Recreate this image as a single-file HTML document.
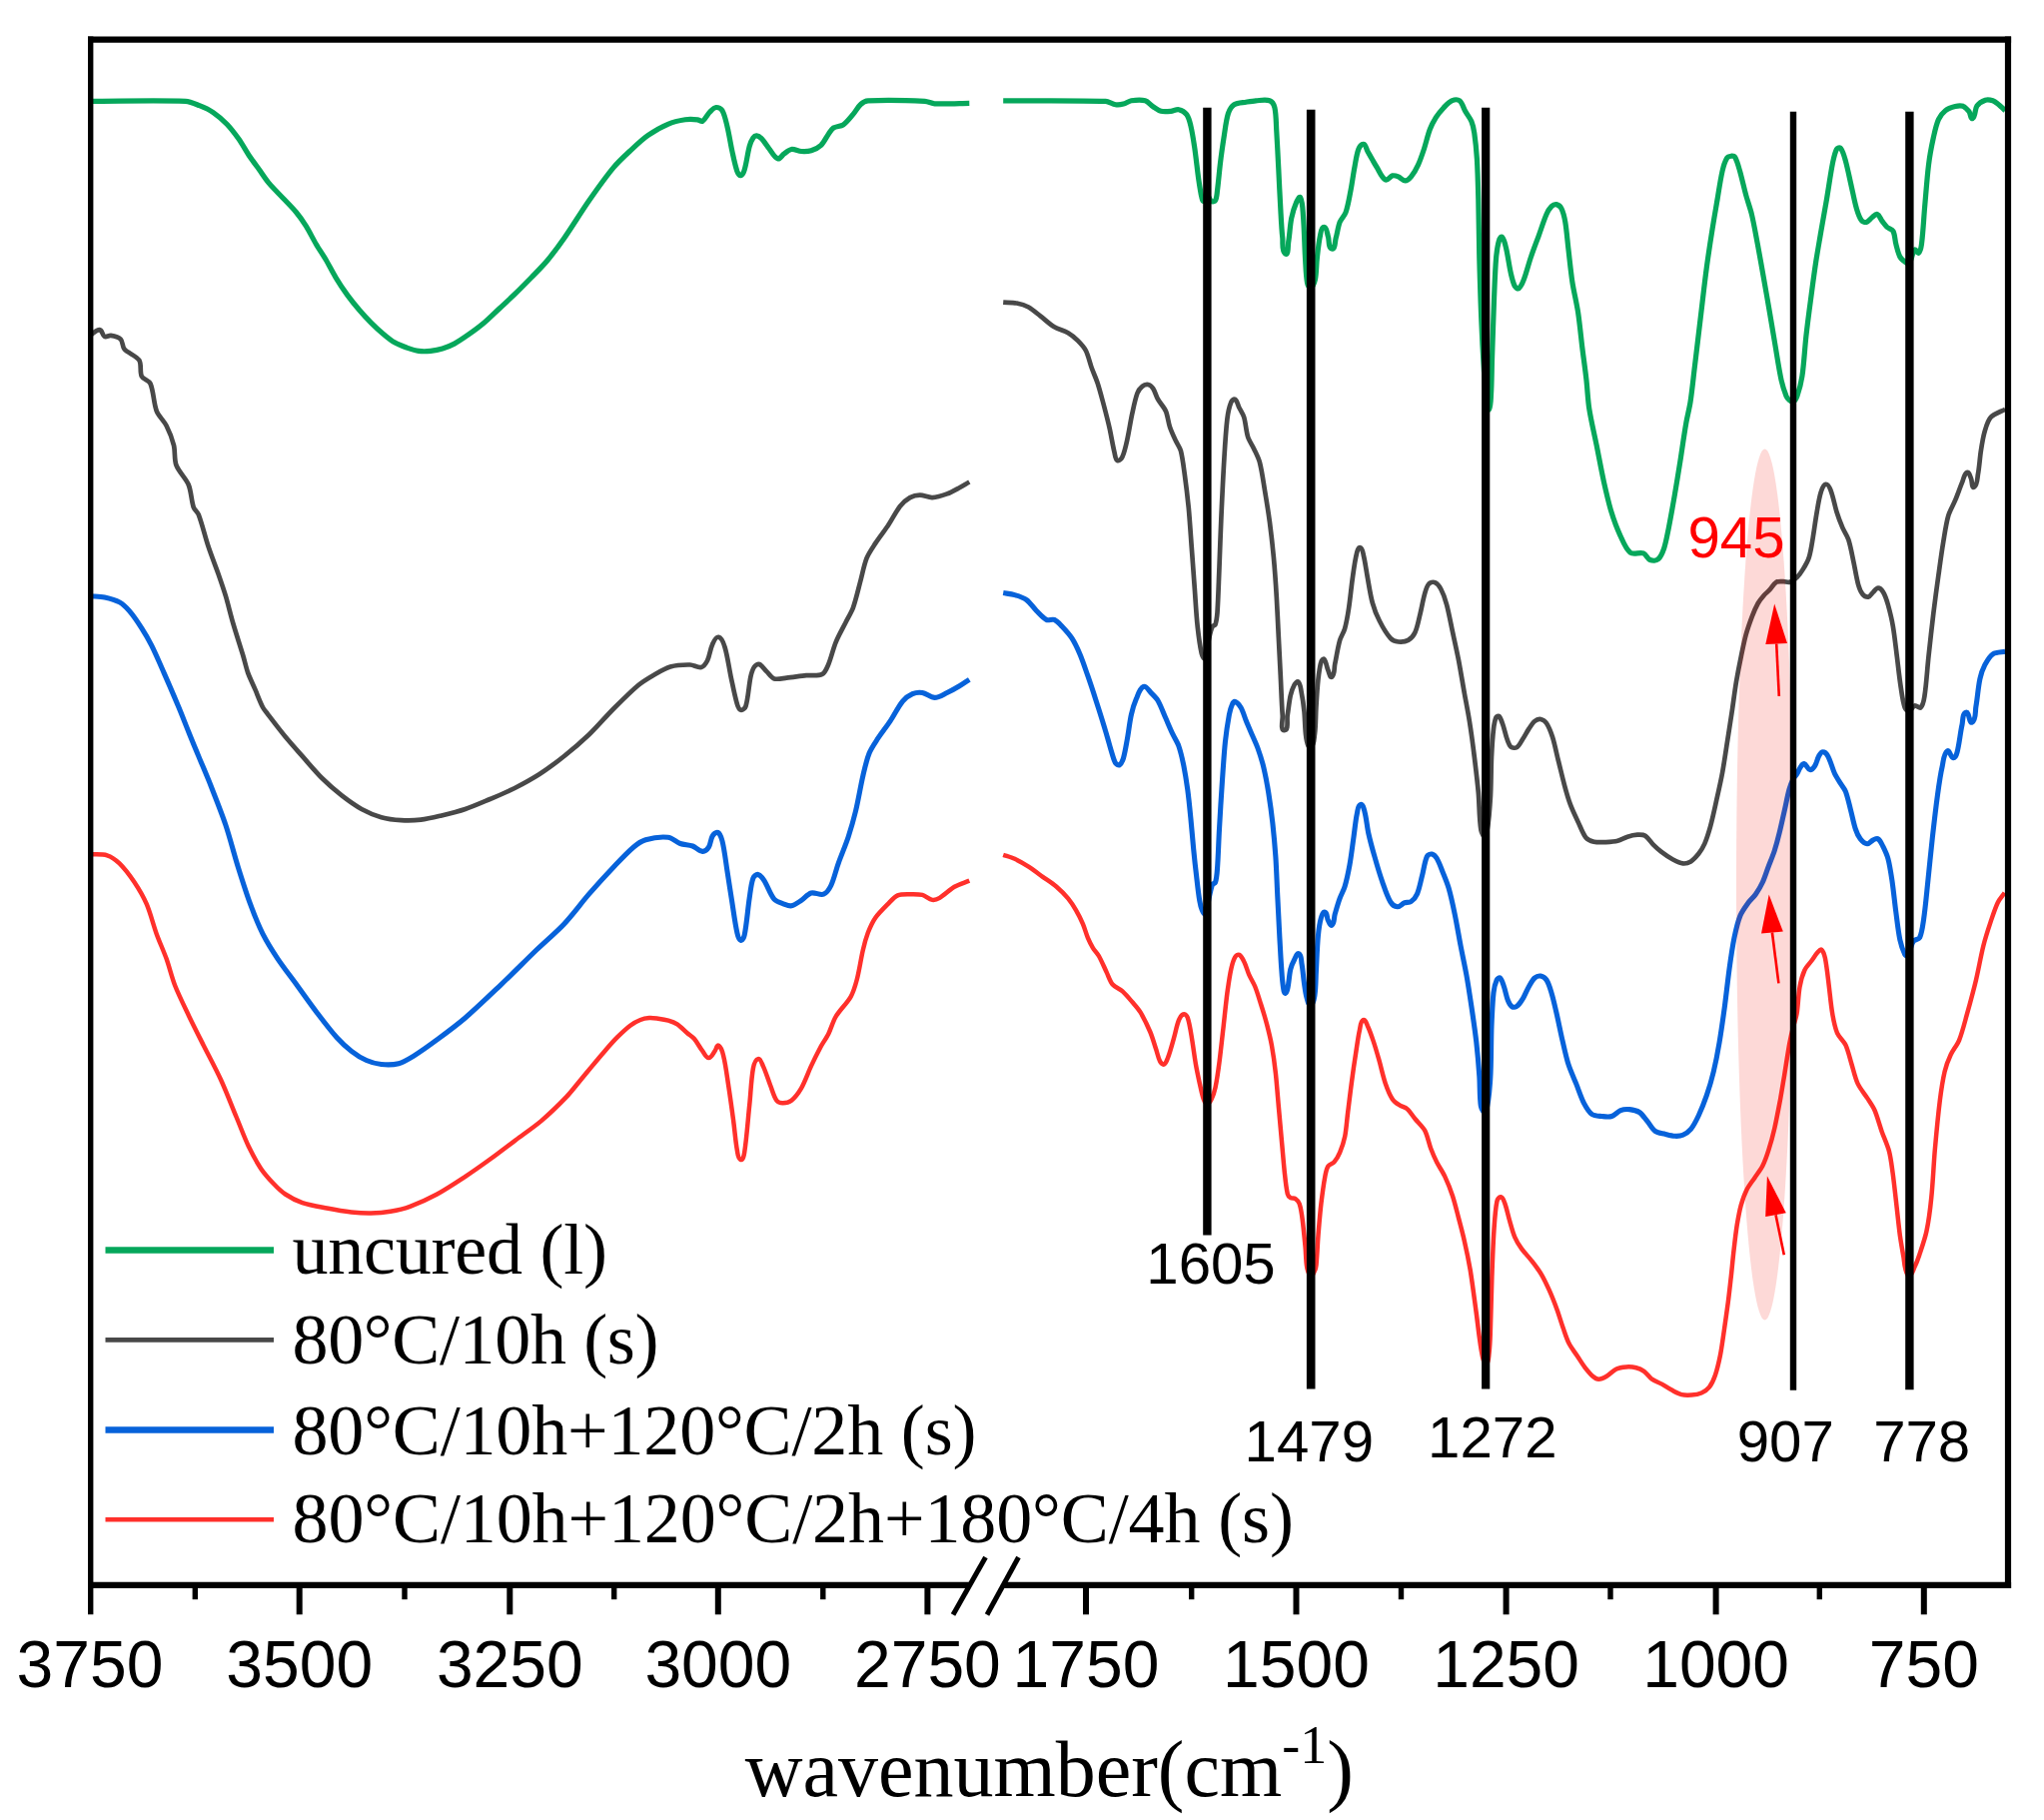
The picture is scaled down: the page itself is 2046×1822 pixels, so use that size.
<!DOCTYPE html>
<html lang="en"><head><meta charset="utf-8"><title>FTIR spectra</title>
<style>
html,body{margin:0;padding:0;background:#fff;}
svg{display:block;}
.ax{font-family:"Liberation Sans",Arial,sans-serif;fill:#000;}
.tm{font-family:"Liberation Serif","Times New Roman",serif;fill:#000;}
</style></head><body>
<svg width="2046" height="1822" viewBox="0 0 2046 1822">
<rect width="2046" height="1822" fill="#fff"/>
<g fill="none" stroke-linejoin="round" stroke-linecap="butt">
<path d="M90 101.4C118.7 101.4 157 100.3 185.7 101.4C190.1 101.6 195.6 104.1 199.6 105.7C203.9 107.4 209.6 110 213.4 112.6C217.9 115.7 223.5 120.5 227.3 124.5C231.2 128.6 235.8 134.7 239.1 139.3C242.3 143.9 245.9 150.5 249 155.2C251.8 159.4 255.9 164.9 258.9 169C261.9 173.2 265.5 179 268.8 182.9C272.7 187.6 278.5 193.3 282.7 197.7C286.8 202.1 292.6 207.8 296.5 212.5C299.8 216.4 303.7 222.1 306.4 226.4C309.6 231.6 313.2 238.9 316.3 244.2C319.1 249 323.4 255.2 326.2 260C329.3 265.3 332.9 272.6 336.1 277.8C339.4 283.3 344.1 290.4 347.9 295.6C351.3 300.2 356.1 306.2 359.8 310.5C363.2 314.5 368 319.6 371.7 323.3C375.1 326.7 379.8 331.1 383.5 334.2C386.9 337.1 391.6 340.9 395.4 343.1C398.7 345.1 403.6 346.8 407.3 348.1C410.8 349.3 415.5 350.9 419.1 351.4C422.6 351.9 427.4 351.8 431 351.4C434.6 351 439.4 350.1 442.9 349C446.6 347.9 451.4 345.9 454.8 344.1C459.1 341.8 464.6 338 468.6 335.2C473.5 331.8 479.9 327.1 484.4 323.3C489.4 319.1 495.5 312.9 500.3 308.5C505 304.1 511.4 298.2 516.1 293.7C520.9 289 527.2 282.6 531.9 277.8C536.7 272.8 543.3 266.3 547.7 261C553.1 254.5 559.9 245.4 564.7 238.5C572.4 227.4 581.8 212.1 589.5 201C596.6 190.8 606.2 177.2 614.2 167.6C618.9 161.9 626.1 155.3 631.5 150.3C636.5 145.6 643.2 139.3 648.8 135.4C654.4 131.5 662.3 126.9 668.6 124.3C673.5 122.2 680.6 120.6 685.9 119.8C689.6 119.2 694.6 119.5 698.3 119.8C699.8 119.9 701.9 122.1 703.2 121.3C706.2 119.4 708.1 114.5 710.6 112C712.2 110.4 714.5 107.7 716.8 107.5C718.9 107.3 721.9 108.9 723 110.7C725.5 115.1 726.8 121.9 728 126.8C729.8 134.1 731.3 144.1 732.9 151.5C734.2 157.5 735.8 165.5 737.8 171.3C738.4 172.9 739.8 176 741.5 175.7C743.5 175.3 744.6 172 745.2 170C747.3 163.1 748.3 153.5 750.2 146.5C750.9 143.8 752.3 140.2 753.9 137.9C754.6 136.9 756.4 135.7 757.6 135.9C759.4 136.1 761.4 137.8 762.6 139.1C765.1 141.8 767.7 146.1 770 149C772.5 152.1 774.9 157.6 778.6 158.9C780.8 159.7 782.8 155.3 784.8 154C786.9 152.5 789.6 149.9 792.2 149.5C795.2 149.1 799.1 151.3 802.1 151.5C805.1 151.7 809.2 151.6 812 150.7C815.2 149.7 819.5 147.6 821.9 145.3C824.8 142.5 827 137.5 829.3 134.2C830.7 132.3 832.3 129.3 834.3 128C836.9 126.3 841.6 126.6 844.2 124.8C847.7 122.4 851.2 117.7 854 114.4C856.4 111.6 858.7 107 861.5 104.5C863.3 102.8 866.4 100.9 868.9 100.8C885.9 100 908.7 100.5 925.8 101.3C928.8 101.4 932.6 103.7 935.6 103.8C946 104.3 959.9 103.5 970.3 103.3" stroke="#06A75B" stroke-width="5.2"/>
<path d="M1004.2 100.8C1035 101 1076 100.3 1106.7 101.4C1109.8 101.5 1113.5 104.2 1116.6 104.7C1118.9 105.1 1122.2 104.7 1124.5 104.1C1127 103.5 1129.9 101.2 1132.4 100.8C1136.5 100.2 1142.3 99.7 1146.3 100.8C1149.2 101.6 1151.7 105.1 1154.2 106.7C1156.5 108.2 1159.4 110.6 1162.1 111.3C1165 112 1169 111.6 1172 111.3C1174.4 111.1 1177.5 109.2 1179.9 109.7C1182.6 110.3 1186.1 112.4 1187.8 114.6C1189.9 117.4 1191 122.1 1191.8 125.5C1193.4 132 1194.7 140.7 1195.7 147.3C1197.1 156.8 1198.4 169.4 1199.7 178.9C1200.5 184.3 1201.5 191.4 1202.7 196.7C1203.1 198.3 1203.4 201.7 1205 201.5C1206.9 201.3 1206.5 196 1208.5 196C1210.5 196 1210.7 200.5 1212.5 201.5C1213.6 202.1 1215.9 201.8 1216.5 200.7C1218 198.1 1218.1 193.8 1218.5 190.8C1219.6 182.5 1220.5 171.4 1221.5 163.1C1222.5 154.8 1224.1 143.7 1225.4 135.4C1226.4 128.8 1227.4 119.9 1229.4 113.6C1230.4 110.6 1232.6 106.4 1235.3 104.7C1238.4 102.7 1243.6 102.8 1247.2 102.2C1250.2 101.7 1254.1 101 1257.1 100.8C1261.2 100.6 1267 99.4 1270.9 100.8C1273.3 101.7 1275.3 105.2 1275.9 107.7C1277.5 114.7 1277.3 124.3 1277.8 131.4C1278.5 142.7 1279.2 157.7 1279.8 169C1280.4 180.9 1281.1 196.7 1281.8 208.6C1282.3 217.5 1282.8 229.4 1283.8 238.3C1284.3 243.1 1282.7 251.4 1286.7 254.1C1289.8 256.1 1289.1 245.8 1289.7 242.2C1290.9 235.1 1291.3 225.5 1292.7 218.5C1293.7 213.6 1295.6 207.2 1297.6 202.6C1298.3 200.9 1300.8 196 1301.6 197.7C1304.1 202.8 1304 210.8 1304.5 216.5C1305.5 228.9 1305.8 245.6 1306.5 258C1307 265.5 1307.1 275.6 1308.5 283C1308.8 284.8 1310.3 288.7 1312 288C1314.6 287 1315.8 282.7 1316.4 280C1317.8 273.5 1317.6 264.6 1318.4 258C1319.1 251.5 1320 242.7 1321.4 236.3C1322 233.5 1322.4 227.4 1325.3 227.4C1328.2 227.4 1328.3 233.5 1329.3 236.3C1330.7 240.1 1329.3 248.1 1333.2 249.1C1336.5 249.9 1336.2 241.6 1337.2 238.3C1338.6 233.6 1339.3 227 1341.1 222.4C1342.3 219.2 1346 215.8 1347.1 212.5C1349.3 206.2 1350.7 197.3 1352 190.8C1353.4 183.7 1354.6 174.1 1356 167C1357 161.6 1357.9 154.3 1359.9 149.2C1360.7 147.2 1362.9 143.8 1364.9 144.3C1367.2 144.8 1367.6 149.1 1368.8 151.2C1370.3 153.8 1372.3 157.4 1373.8 160C1375 162.1 1376.6 165 1377.9 167C1380.5 170.9 1382.7 177.6 1386.8 179.9C1388.9 181.1 1391.4 176.4 1393.7 175.9C1395.5 175.5 1398 176.2 1399.7 176.9C1401.9 177.8 1404.2 180.9 1406.6 180.9C1408.7 180.9 1411.1 178.6 1412.5 176.9C1415.1 173.7 1417.8 168.8 1419.5 165.1C1421.6 160.5 1423.8 154 1425.4 149.2C1427.3 143.3 1429.1 135.3 1431.3 129.5C1432.7 125.8 1435.2 121 1437.3 117.6C1439.3 114.4 1442.6 110.5 1445.2 107.7C1447.4 105.4 1450.2 102.1 1453.1 100.8C1455.3 99.9 1459.1 99.3 1461 100.8C1463.9 103.1 1465 108.5 1466.9 111.7C1468.6 114.7 1471.6 118.3 1472.9 121.5C1474.3 124.9 1475.3 129.8 1475.8 133.4C1476.9 141.1 1477.9 151.4 1478.4 159.1C1479.1 171 1479.5 186.8 1479.8 198.7C1480.2 216.5 1480.4 240.2 1480.8 258C1481.3 276.6 1482 301.4 1482.8 320C1483.4 335.6 1484.5 356.4 1485.5 372C1486.1 381.9 1486.7 395.2 1488 405C1488.2 406.7 1489.8 411.5 1490.5 410C1492.4 405.9 1492.2 399.5 1492.5 395C1493.2 383.6 1493.2 368.4 1493.6 357C1494.2 339.2 1494.9 315.4 1495.6 297.6C1496.1 285.7 1496.6 269.9 1497.6 258C1498.1 252.6 1499.1 245.4 1500.6 240.2C1500.9 239 1502.7 236.4 1503.5 237.3C1505.8 239.9 1506.7 244.8 1507.5 248.2C1509.4 255.8 1510.6 266.3 1512.4 273.9C1513.3 277.8 1514.5 283.2 1516.4 286.7C1517 287.9 1519.3 289.5 1520.3 288.7C1522.7 286.8 1524.2 282.7 1525.3 279.8C1527.8 273.4 1530 264.5 1532.2 258C1534.4 251.4 1537.7 242.8 1540.1 236.3C1542.5 229.8 1545.2 220.9 1548 214.5C1549.1 211.9 1551 208.6 1553 206.6C1554.1 205.5 1556.3 204.3 1557.9 204.6C1559.8 205 1562 206.9 1562.9 208.6C1564.8 212.4 1566.1 218.2 1566.8 222.4C1568.1 230.1 1568.9 240.5 1569.8 248.2C1571 258.3 1572.3 271.8 1573.8 281.8C1575.2 291.3 1578.3 303.9 1579.7 313.4C1581.2 323.5 1582.5 337 1583.7 347.1C1584.9 357 1586.8 370.1 1587.9 380C1588.9 388.8 1589.4 400.6 1590.8 409.4C1592.5 420.5 1596 435 1598.2 446C1600.4 457 1603.1 471.7 1605.5 482.7C1607.5 491.6 1610.2 503.4 1612.8 512.1C1615 519.3 1618.4 528.8 1621.6 535.6C1624.2 541.1 1627.1 549.4 1631.9 553.2C1635 555.6 1641.4 552.5 1645.1 553.9C1647.7 554.9 1649.1 559.5 1651.7 560.5C1654 561.4 1657.9 561.4 1659.8 559.8C1662.7 557.4 1664.5 552.3 1665.7 548.8C1667.6 543.2 1668.9 535.5 1670.1 529.7C1672 520 1674.3 507.1 1676 497.4C1677.8 486.9 1680.1 472.8 1681.8 462.2C1683.6 450.7 1685.7 435.4 1687.7 424C1688.8 417.4 1691.1 408.7 1692.1 402C1693.7 391.5 1695.1 377.4 1696.4 366.8C1698.2 352 1700.5 332.2 1702.3 317.4C1704.1 302.5 1706.3 282.7 1708.3 267.9C1709.9 256 1712.3 240.2 1714.2 228.4C1715.6 219.5 1717.7 207.6 1719.2 198.7C1720.6 190.4 1722.2 179.2 1724.1 171C1725 167 1726.6 161.6 1728.7 158.1C1729.4 156.9 1731.6 156.4 1733 156.2C1734.1 156.1 1736 156.2 1736.6 157.2C1738.8 161 1740.3 166.8 1741.5 171C1743.5 178 1745.6 187.6 1747.5 194.7C1749.1 200.7 1752 208.5 1753.4 214.5C1755.5 223.3 1757.6 235.3 1759.3 244.2C1761.2 254.3 1763.5 267.7 1765.3 277.8C1767.1 287.9 1769.5 301.4 1771.2 311.5C1773 322.2 1775.4 336.4 1777.2 347.1C1778.9 357.2 1780.9 370.7 1783.1 380.7C1784.2 385.5 1786.2 391.9 1788 396.5C1788.6 397.9 1789.8 399.6 1791 400.5C1792 401.3 1793.9 402.6 1795 402C1796.8 401.1 1798.2 398.4 1798.9 396.5C1800.9 390.7 1803 382.8 1803.9 376.7C1805.7 364.9 1806.5 349 1807.8 337.2C1809.1 325.3 1811.2 309.5 1812.8 297.6C1814.2 286.9 1816.1 272.7 1817.7 262C1819.1 253.1 1821.2 241.2 1822.7 232.3C1824.4 222.2 1826.9 208.8 1828.6 198.7C1830.4 188 1832.4 173.7 1834.5 163.1C1835.4 158.8 1836.5 153 1838.5 149.2C1839.1 148.1 1841.7 147.2 1842.4 148.2C1844.9 151.5 1846.3 157.1 1847.4 161.1C1849.5 168.7 1851.5 179.1 1853.3 186.8C1854.8 193.3 1856.4 202.2 1858.3 208.6C1859.4 212.3 1860.9 217.4 1863.2 220.5C1864.1 221.8 1866.7 222.8 1868.2 222.4C1870.4 221.8 1872.2 218.9 1874.1 217.5C1875.5 216.5 1877.4 213.9 1879 214.5C1881.4 215.4 1882.4 219.4 1884 221.4C1885.4 223.2 1887.2 225.8 1888.9 227.4C1890.5 228.8 1893.9 229.4 1894.9 231.3C1896.8 234.8 1896.8 240.4 1897.8 244.2C1898.8 248.1 1900 253.4 1901.8 257C1902.7 258.9 1905 260.7 1906.7 262C1907.8 262.9 1910.1 265.1 1911 264C1913.9 260.5 1913.6 253.5 1916.6 250.1C1917.6 249 1919.5 254.1 1920.6 253.1C1922.7 251.3 1923.1 247 1923.5 244.2C1924.9 233.6 1925.6 219.3 1926.5 208.6C1927.7 195.5 1928.9 178.1 1930.5 165.1C1931.5 156.7 1933.6 145.6 1935.4 137.4C1936.6 132 1938.1 124.7 1940.4 119.6C1941.8 116.5 1944.6 112.8 1947.3 110.7C1949.8 108.7 1954.1 107.3 1957.2 106.5C1959.5 105.9 1962.8 105.5 1965 106.3C1967.3 107.2 1969.5 109.8 1971 111.7C1972.4 113.5 1972.6 119.8 1974.5 118.5C1977.7 116.2 1976.6 109.3 1978.9 106C1980.7 103.5 1984.4 101.2 1987.3 100.2C1989.4 99.5 1992.7 100.1 1994.8 100.8C1996.8 101.5 1999 103.4 2000.7 104.7C2002.8 106.4 2005.2 108.9 2007.2 110.7" stroke="#06A75B" stroke-width="5.2"/>
<path d="M90 336C92.9 334.3 96.4 330 99.8 330.2C102.3 330.4 102.5 335.9 104.7 337C106.4 337.9 109 335.6 110.9 335.9C114 336.4 118.6 337.4 120.8 339.6C123 341.8 122.4 347.1 124.5 349.5C128.2 353.7 136.3 355.9 139.3 360.6C141.9 364.7 139.7 372.3 141.8 376.7C143.3 379.8 149.2 380.9 150.5 384C153.8 391.7 153.7 403.5 156.7 411.3C158.6 416.3 164.1 421.3 166.5 426C169.4 431.7 172.5 439.7 174 445.9C175.4 451.7 174.3 460.1 176.4 465.7C178.9 472.3 186.1 479 188.8 485.5C191.4 491.8 191.5 501.2 193.7 507.7C194.5 510.2 197.8 512.5 198.7 515C202.3 524.5 205.4 537.7 208.6 547.3C211.3 555.5 215.6 566.3 218.5 574.5C220.8 581.1 223.9 590 225.9 596.7C228.3 604.8 230.9 615.9 233.3 624C236.1 633.6 240.3 646.4 243.2 656C244.8 661.2 246.3 668.3 248.1 673.4C250 678.7 253.4 685.5 255.6 690.7C257.8 695.9 260.4 703 263 708C264.1 710.2 266.4 712.8 267.9 714.8C273 721.5 279.8 730.5 285.2 737C290.2 743.1 297.3 751 302.5 756.9C308.4 763.6 316 772.7 322.3 779C327.9 784.6 335.9 791.5 342.1 796.4C347.8 800.8 355.6 806.5 361.9 810C367.5 813.1 375.5 816.5 381.7 818.2C387.5 819.8 395.5 820.8 401.5 821.2C407.4 821.6 415.3 821.4 421.2 820.7C427.2 820 435.1 818.1 441 816.7C448.5 814.9 458.4 812.5 465.7 810C473.3 807.4 483.1 803.1 490.5 800C498 796.8 508 792.7 515.2 789C522.8 785.1 532.8 779.6 540 775C547.7 770 557.5 762.7 564.7 757C572.4 750.9 582.4 742.3 589.5 735.5C597.3 728.1 606.6 717.1 614.2 709.5C621.4 702.3 631.1 692.6 638.9 686C643 682.6 649.1 678.9 653.7 676.2C658.7 673.3 665.4 669.1 671 667.5C676.7 665.8 684.8 665.4 690.8 665.5C694.2 665.6 698.7 668.8 702 668C704.6 667.4 706.9 663.7 708.1 661.3C710.3 656.8 710.9 649.8 713.1 645.2C714.3 642.6 716.5 637.2 719.3 637.8C722.7 638.5 724.5 644.4 725.5 647.7C728.2 656.4 729.7 668.5 731.6 677.4C733.4 685.6 735.4 696.6 737.8 704.6C738.4 706.7 739.4 710.2 741.5 710.8C743.3 711.3 746 708.8 746.5 707C749.1 698.4 749.5 686.2 751.4 677.4C752.1 674.3 753.3 670.1 755.1 667.5C756.1 666.1 758.5 664.4 760.1 665C763 666.2 765.2 670.2 767.5 672.4C769.7 674.5 772 678.5 774.9 679.4C778.5 680.5 783.6 679 787.3 678.6C793.3 678 801.1 676.8 807.1 676.2C811.9 675.7 818.8 677.1 823.1 674.9C826.2 673.3 827.9 668.2 829.3 665C832 658.5 834 649.3 836.7 642.8C839.2 636.7 843.6 628.9 846.6 623C848.8 618.6 852.3 612.9 854 608.2C856.8 600.2 859.3 589.2 861.5 581C863.3 574.3 865 565.1 867.6 558.7C869.5 553.9 873.5 548.2 876.3 543.9C879.8 538.5 885.1 531.8 888.7 526.5C892.6 520.7 896.7 512.3 901 506.8C903.4 503.7 907.5 500 910.9 498.1C913.6 496.6 917.7 495.6 920.8 495.6C924.6 495.6 929.4 498.3 933.2 498.1C937.8 497.9 943.7 496 948 494.4C951.9 493 956.7 490.2 960.4 488.2C963.4 486.6 967.3 484.2 970.3 482.5" stroke="#484848" stroke-width="4.7"/>
<path d="M1004.2 302.6C1008.2 302.9 1013.7 302.7 1017.7 303.5C1021.4 304.2 1026.3 305.7 1029.6 307.5C1033.5 309.6 1037.9 313.7 1041.4 316.4C1045.6 319.6 1050.8 324.6 1055.3 327.3C1059.1 329.6 1065.2 330.9 1069.1 333.2C1072.4 335.1 1076.3 338.4 1079 341.1C1081.7 343.8 1085.2 347.6 1086.9 351C1089.4 356 1091 363.5 1092.9 368.8C1094.6 373.4 1097.3 379.3 1098.8 384C1100.8 390.2 1103 398.7 1104.7 405C1106.6 412.2 1109.1 421.8 1110.7 429C1112.3 436.2 1113.8 446 1115.6 453.2C1116.2 455.7 1116.3 460 1118.6 461.1C1120.3 461.9 1122.7 458.9 1123.5 457.2C1125.8 452.1 1127.3 444.7 1128.5 439.3C1130.2 431.6 1131.7 421.3 1133.4 413.6C1134.7 407.6 1136.3 399.5 1138.4 393.8C1139.3 391.4 1141.3 388.5 1143.3 386.9C1144.7 385.7 1147.4 384.7 1149.2 385C1151.1 385.3 1153.1 387.3 1154.2 388.9C1156.2 391.9 1157.3 396.7 1159.1 399.8C1161.2 403.5 1165.3 407.8 1167 411.7C1168.9 416.2 1169.4 422.9 1171 427.5C1172.4 431.8 1175 437.2 1176.9 441.3C1178.3 444.3 1181 448 1181.9 451.2C1183.7 458.2 1184.8 467.8 1185.8 474.9C1187.2 485 1188.8 498.5 1189.8 508.6C1190.9 520.5 1191.9 536.3 1192.8 548.2C1193.7 560 1194.8 575.9 1195.7 587.7C1196.6 599.6 1197.4 615.5 1198.7 627.3C1199.6 635.4 1200.9 646.1 1202.7 654C1203.1 655.8 1205.2 660.6 1206 659C1208.7 653.8 1208.7 645.7 1210 640C1210.9 636.2 1211.9 630.9 1213.5 627.3C1213.9 626.3 1216.1 626.3 1216.5 625.3C1217.7 621.9 1218.2 617 1218.5 613.4C1219.4 599.8 1219.9 581.6 1220.5 567.9C1221.1 553.1 1221.7 533.3 1222.4 518.5C1223.2 500.7 1224.3 476.9 1225.4 459.1C1226.1 447.2 1227 431.4 1228.4 419.6C1229 414.4 1230.4 407.5 1232.3 402.7C1232.8 401.3 1235 399 1236.3 399.8C1238.5 401.2 1239 405.3 1240.2 407.7C1241.7 410.7 1244.2 414.4 1245.2 417.6C1246.9 423.4 1247.3 431.6 1249.1 437.4C1250.3 441.2 1253.4 445.6 1255.1 449.2C1257 453.3 1259.9 458.7 1261 463.1C1263.1 471.3 1264.6 482.5 1266 490.8C1267.6 500.3 1269.6 512.9 1270.9 522.4C1272.3 533.1 1273.9 547.3 1274.9 558C1276 569.9 1277.1 585.7 1277.8 597.6C1278.5 609.5 1279.2 625.3 1279.8 637.2C1280.4 649.1 1281.2 664.8 1281.8 676.7C1282.4 688.6 1282.9 704.4 1283.8 716.3C1284.1 720.8 1281.2 731.1 1285.7 731.1C1290.2 731.1 1287.9 720.8 1288.7 716.3C1289.7 710.4 1290.4 702.4 1291.7 696.5C1292.5 693.1 1293.9 688.6 1295.6 685.6C1296.3 684.3 1298.6 681.7 1299.6 682.7C1301.8 684.9 1302 689.6 1302.6 692.6C1303.8 698.5 1304.9 706.4 1305.5 712.3C1306.3 720.3 1306.1 731.1 1307.5 739C1308 742 1309.3 749.3 1312 748C1315.7 746.3 1315.4 739 1316 735C1317.1 727.1 1316.9 716.4 1317.4 708.4C1317.9 700.1 1318.5 689 1319.4 680.7C1320 675.3 1320.8 668.1 1322.3 662.9C1322.6 661.7 1324.5 658.9 1325.3 659.9C1327.6 662.5 1327.9 667.6 1329.3 670.8C1330.3 673 1331.4 679.2 1333.2 677.7C1336.2 675.1 1335.4 668.8 1336.2 664.9C1337.7 657.8 1339.1 648.1 1341.1 641.1C1342.1 637.4 1345.1 633 1346.1 629.3C1347.7 623.5 1349.1 615.5 1350 609.5C1351.5 600 1352.6 587.3 1354 577.8C1355 570.7 1356.2 561.1 1358 554.1C1358.5 552.1 1359.5 547.6 1361.5 548.2C1364 548.9 1364.3 553.6 1364.9 556.1C1366.5 562.5 1367.6 571.3 1368.8 577.8C1370.2 585.5 1371.7 595.9 1373.8 603.5C1375.3 609 1378.1 616.2 1380.7 621.3C1383.5 626.9 1387.6 634.3 1391.8 638.9C1393.5 640.8 1397.1 642.2 1399.7 642.5C1402.7 642.8 1407 642.4 1409.6 640.9C1412.3 639.4 1415.2 635.9 1416.5 633C1418.8 628 1420.1 620.6 1421.4 615.2C1423 608.7 1424.5 599.8 1426.4 593.4C1427.2 590.6 1428.3 586.6 1430.3 584.5C1431.6 583.2 1434.6 582.4 1436.3 583.1C1438.7 584.1 1441 587.2 1442.2 589.5C1444.6 594 1446.8 600.4 1448.1 605.3C1450.3 613.5 1452.3 624.7 1454.1 633C1455.9 641.3 1458.4 652.4 1460 660.7C1461.9 670.7 1464.1 684.2 1465.9 694.3C1467.4 702.6 1469.6 713.7 1470.9 722C1472.6 732.7 1474.5 746.9 1475.8 757.6C1477.1 768.3 1478.8 782.5 1479.8 793.2C1480.8 804.5 1480.6 819.6 1482.4 830.8C1482.8 833.3 1486.2 840.4 1487 838C1490.3 827.4 1490.9 812.2 1491.7 801.1C1492.7 788.1 1492.4 770.6 1493 757.6C1493.4 749.3 1494 738.2 1495 729.9C1495.4 726.3 1496.1 721.3 1497.6 718C1498 717.1 1500 716.4 1500.6 717.1C1502.5 719.3 1503.5 723.2 1504.5 726C1505.9 730.1 1507 735.7 1508.5 739.8C1509.4 742.3 1510.4 746 1512.4 747.7C1513.8 748.9 1516.9 749.1 1518.4 748.1C1520.9 746.4 1522.6 742.4 1524.3 739.8C1526.2 736.9 1528.3 732.8 1530.2 729.9C1531.9 727.4 1533.9 723.9 1536.2 722C1537.6 720.8 1540.3 719.7 1542.1 720C1544.2 720.4 1546.8 722.2 1548 724C1550.5 727.8 1552.6 733.5 1554 737.8C1556.2 744.8 1558.1 754.5 1559.9 761.6C1561.7 768.7 1563.9 778.2 1565.8 785.3C1567.4 791.3 1569.6 799.3 1571.8 805.1C1573.8 810.6 1577.2 817.6 1579.7 822.9C1582 827.7 1584.3 834.6 1587.6 838.7C1589.3 840.8 1592.9 842.1 1595.5 842.7C1599 843.5 1603.8 843.2 1607.4 843.1C1611 842.9 1615.8 842.6 1619.3 841.7C1622.4 840.9 1626.1 838.6 1629.1 837.7C1632 836.8 1636 835.9 1639 835.7C1641.4 835.6 1644.9 835.4 1646.9 836.7C1649.9 838.6 1652.4 843.1 1654.9 845.6C1657.1 847.8 1660.3 850.7 1662.8 852.6C1666.2 855.2 1670.9 858.5 1674.6 860.5C1677.4 862 1681.3 864.1 1684.5 864.4C1687 864.7 1690.4 863.7 1692.5 862.4C1695.3 860.6 1698.3 857.1 1700.4 854.5C1702.5 851.8 1704.9 847.8 1706.3 844.6C1708.5 839.4 1710.7 832.2 1712.2 826.8C1714.3 819.2 1716.5 808.8 1718.2 801.1C1720 792.8 1722.6 781.8 1724.1 773.4C1725.8 764 1727.6 751.3 1729.1 741.8C1730.6 732.3 1732.6 719.6 1734 710.1C1735.2 701.8 1736.6 690.7 1738 682.4C1739.3 674.7 1741.3 664.4 1742.9 656.7C1744.3 650.1 1746 641.4 1747.8 634.9C1749.3 629.5 1751.8 622.4 1753.8 617.1C1755.3 613.1 1757.6 607.8 1759.7 604C1761.2 601.4 1763.7 598.3 1765.7 596C1767.2 594.3 1769.6 592.4 1771.2 590.7C1773.4 588.4 1775.4 584.4 1778.1 582.8C1779.9 581.7 1783 582.2 1785.1 582.2C1787.1 582.2 1789.7 583.4 1791.6 582.8C1794.1 582 1797 579.7 1798.9 577.8C1801 575.7 1803.3 572.4 1804.8 569.9C1806.9 566.5 1809.6 561.8 1810.8 558C1812.6 552.3 1813.7 544.2 1814.7 538.3C1816 530.6 1817.3 520.2 1818.7 512.5C1819.7 506.6 1820.9 498.5 1822.7 492.8C1823.6 490.1 1824.8 485.4 1827.6 484.8C1829.9 484.3 1831.6 488.6 1832.5 490.8C1835 497.1 1836.5 506.1 1838.5 512.5C1840 517.4 1842.4 523.7 1844.4 528.4C1846 532 1849.1 536.4 1850.3 540.2C1852.4 546.6 1853.9 555.4 1855.3 562C1856.8 569.1 1858.3 578.7 1860.2 585.7C1861 588.5 1862.3 592.3 1864.2 594.6C1865.5 596.1 1868.1 597.9 1870.1 597.6C1872.2 597.2 1873.5 594.1 1875.1 592.7C1876.5 591.4 1878.1 588.7 1880 588.7C1881.9 588.7 1884 591 1885 592.7C1887.1 596.2 1888.8 601.5 1889.9 605.5C1891.7 612 1893.8 620.7 1894.9 627.3C1896.4 636.2 1897.7 648.1 1898.8 657C1900 666.5 1901.3 679.2 1902.8 688.6C1903.7 694.6 1904.7 702.7 1906.7 708.4C1907.3 710 1909.4 712.3 1911 712C1913.3 711.5 1914.3 707.1 1916.6 706.4C1918.4 705.8 1921.3 709.7 1922.6 708.4C1925.3 705.7 1925.9 700.2 1926.5 696.5C1928.3 684.7 1929.2 668.8 1930.5 657C1931.9 643.9 1933.8 626.5 1935.4 613.4C1936.8 602.1 1938.8 587.1 1940.4 575.8C1941.8 565.7 1943.6 552.3 1945.3 542.2C1946.6 534.5 1948 524 1950.2 516.5C1951.6 511.5 1955.2 505.5 1957.2 500.7C1959.4 495.4 1961.9 488.2 1964.1 482.9C1965.4 479.9 1966 474.4 1969 473C1971 472.1 1972.1 477 1973 478.9C1974.2 481.4 1973.5 489.2 1976 487.8C1979.5 485.8 1979.2 478.9 1979.9 475C1981.2 467.9 1981.8 458.3 1982.9 451.2C1983.8 445.2 1985.1 437.2 1986.8 431.4C1988.1 427.1 1989.7 420.9 1992.8 417.6C1996.2 414 2002.9 412.1 2007.2 409.7" stroke="#484848" stroke-width="4.7"/>
<path d="M90 596.7C94.4 597.1 100.4 597.1 104.7 598C109.3 599 115.5 600.6 119.6 602.9C123.1 604.8 126.9 608.6 129.5 611.6C133.6 616.4 138.4 623.5 141.8 628.9C145 633.9 149 640.8 151.7 646.2C155.7 654.2 160.4 665.2 164 673.4C168.6 683.7 174.5 697.6 178.9 708C182 715.4 185.8 725.3 188.8 732.7C191.7 740 195.7 749.6 198.7 756.9C202.4 765.8 207.5 777.6 211 786.5C215.6 798.3 221.9 814 225.9 826C230.1 838.5 234.4 855.5 238.3 868C241.8 879.2 246.5 894.2 250.6 905.2C253.9 914.3 258.7 926.3 263 934.9C266.9 942.6 273 952.4 277.8 959.6C283.4 968 291.7 978.6 297.6 986.8C303.5 995 311.3 1006 317.4 1014C323.2 1021.6 330.8 1031.7 337.2 1038.8C341.2 1043.3 347.2 1048.7 352 1052.4C356.1 1055.6 362 1059.4 366.8 1061.5C371 1063.4 377.1 1065 381.7 1065.5C386.9 1066 394 1066 399 1064.7C403.8 1063.5 409.6 1059.9 413.8 1057.3C421.5 1052.5 431.3 1045.4 438.6 1040C446.9 1033.9 457.9 1025.7 465.7 1019C476.5 1009.7 490.1 996.6 500.4 986.8C511.7 976.1 526.3 961.3 537.5 950.5C545.6 942.7 557 933.1 564.7 924.9C572.7 916.4 581.9 904 589.5 895.2C596.7 886.9 606.6 876 614.2 868C620 861.9 627.6 853.6 634 848.2C637.3 845.4 642.2 842 646.3 840.8C652.8 838.9 661.9 837.6 668.6 838.3C672.7 838.7 677 843.1 680.9 844.5C684.5 845.8 689.7 845.7 693.3 847C696.5 848.1 699.8 852.1 703.2 852.4C705.4 852.6 708.2 850.1 709.4 848.2C711.3 845.3 711.3 840.1 713.1 837.1C714.1 835.4 716.7 832.5 718.5 833.4C721.1 834.7 722.3 839.2 723 842C725.2 850.8 726.5 862.8 727.9 871.7C729.4 881.4 731.4 894.2 732.9 903.9C734.3 912.8 735.8 924.7 737.8 933.5C738.4 936.1 739 940.6 741.5 941.4C743.4 942 744.8 937.9 745.2 936C747.5 925 748.5 910 750.2 898.9C751.1 892.9 751.8 884.8 753.9 879.1C754.5 877.4 757 875 758.8 875.4C761.4 876 763.6 879.4 765 881.6C768.4 886.9 770.8 895.3 774.9 900.1C777 902.6 781.7 903.9 784.8 905.1C786.9 905.9 790 907.3 792.2 906.8C795.5 906.1 799.3 903.2 802.1 901.4C805.2 899.4 808.4 895 812 894C815.6 893 820.9 896.5 824.4 895.2C827.6 894 830.3 889.6 831.8 886.5C834.8 880.2 836.8 870.9 839.2 864.3C842 856.4 846.5 846 849.1 838C851.6 830.3 854.6 819.9 856.5 812C859.1 801.4 861.4 786.9 863.9 776.3C865.5 769.5 867.5 760.4 870.1 754C872 749.2 876 743.5 878.8 739.2C882.3 733.9 887.6 727.2 891.1 721.9C895 716.1 899.1 707.5 903.5 702.1C905.9 699.2 910 696.2 913.4 694.7C916.1 693.5 920.3 693 923.3 693.5C927.2 694.2 931.6 698.4 935.6 698.4C939.6 698.4 944.4 695.2 948 693.5C951.8 691.7 956.8 689 960.4 686.8C963.5 685 967.3 682.2 970.3 680.3" stroke="#0762DA" stroke-width="5.1"/>
<path d="M1004.2 593.6C1007.7 594.2 1012.3 594.6 1015.7 595.6C1019.4 596.7 1024.5 598.3 1027.6 600.6C1031.2 603.2 1034.4 608.4 1037.5 611.5C1040.3 614.3 1043.8 618.6 1047.4 620.4C1049.5 621.5 1053.1 619.5 1055.3 620.4C1058.2 621.7 1061 625 1063.2 627.3C1066.4 630.7 1070.6 635.3 1073.1 639.2C1076 643.7 1078.9 650.1 1081 655C1083.7 661.4 1086.6 670.2 1088.9 676.7C1091.4 683.8 1094.5 693.3 1096.8 700.5C1098.9 707 1101.7 715.7 1103.7 722.2C1105.3 727.2 1107.2 734 1108.7 739C1109.9 743.2 1111.4 748.8 1112.7 753C1113.8 756.3 1114.8 760.9 1116.6 763.9C1117.3 765 1119.5 766.5 1120.6 765.8C1122.6 764.5 1123.8 761.2 1124.5 758.9C1126.2 753.1 1127.4 745.1 1128.5 739.1C1129.8 732 1130.8 722.4 1132.4 715.4C1133.5 710.5 1135.4 704.2 1137.4 699.6C1139.1 695.7 1140.7 688.9 1144.7 687.3C1147.4 686.2 1150.1 691.5 1152.2 693.6C1154.4 695.8 1157.5 698.8 1159.1 701.5C1162 706.6 1164.6 714 1167 719.3C1169.1 724.1 1171.8 730.5 1174 735.2C1175.7 738.8 1178.6 743.3 1179.9 747C1181.9 752.8 1183.7 760.8 1184.9 766.8C1186.3 773.9 1187.8 783.4 1188.8 790.6C1189.9 798.9 1191 810 1191.8 818.3C1192.7 827.8 1193.8 840.4 1194.7 849.9C1195.5 858.2 1196.7 869.3 1197.7 877.6C1198.5 884.7 1199.5 894.2 1200.7 901.3C1201.2 904.3 1202.1 908.4 1203.3 911.2C1203.9 912.6 1205.7 916.3 1206.5 915C1208.9 911 1208.9 904.5 1210 900C1211 895.6 1211.9 889.7 1213.5 885.5C1213.9 884.5 1216.2 884.5 1216.5 883.5C1217.8 879.5 1218.2 873.9 1218.5 869.7C1219.4 857.8 1219.8 842 1220.5 830.1C1221.3 815.8 1222.4 796.8 1223.4 782.6C1224.2 770.7 1225.2 754.9 1226.4 743.1C1227.3 734.7 1228.9 723.7 1230.4 715.4C1231 712.4 1232 708.3 1233.3 705.5C1233.8 704.3 1235.1 702.1 1236.3 702.5C1238.7 703.3 1240.9 706.3 1242.2 708.5C1244.3 712.1 1245.6 717.5 1247.2 721.3C1248.9 725.5 1251.3 731 1253.1 735.2C1254.9 739.3 1257.5 744.8 1259 749C1261.1 754.9 1263.6 762.8 1265 768.8C1266.8 776.4 1268.7 786.8 1269.9 794.5C1271.3 803.4 1272.9 815.3 1273.9 824.2C1275 834.3 1276.2 847.7 1276.9 857.8C1277.7 869.7 1278.2 885.5 1278.8 897.4C1279.4 909.3 1280.2 925.1 1280.8 937C1281.4 947.1 1282 960.5 1282.8 970.6C1283.2 976.6 1283.8 984.5 1284.8 990.4C1285 991.7 1285.5 994.8 1286.7 994.3C1288.4 993.5 1288.7 990.3 1289.1 988.4C1290.2 983.1 1290.5 975.9 1291.7 970.6C1292.4 967.5 1294.1 963.5 1295.6 960.7C1296.7 958.7 1298.2 953.8 1300.2 954.8C1302.9 956.2 1302.5 961.6 1303 964.6C1304.1 970.5 1304.6 978.5 1305.5 984.4C1306.1 988.6 1306.7 994.2 1307.9 998.3C1308.7 1000.8 1309.5 1006.7 1312 1006C1315.1 1005.1 1315.5 999.2 1316 996C1317.1 989.1 1317 979.6 1317.4 972.6C1318 961.9 1318.4 947.7 1319.4 937C1319.9 931.6 1320.8 924.3 1322.3 919.1C1322.9 917 1324.2 912.6 1326.3 913.2C1328.7 913.9 1328.1 918.9 1329.3 921.1C1330.2 922.8 1331.8 927.3 1333.2 926.1C1335.8 923.9 1335.2 918.5 1336.2 915.2C1337.6 910.4 1339.4 904.1 1341.1 899.4C1342.4 895.8 1345 891.2 1346.1 887.5C1348 881.1 1349.8 872.3 1351 865.7C1352.5 857.4 1353.8 846.3 1355 838C1356 830.9 1356.9 821.3 1358.4 814.3C1359 811.5 1359.1 806.1 1361.9 805.4C1364.2 804.8 1365.3 810 1365.9 812.3C1367.7 818.7 1368.4 827.6 1369.8 834.1C1371.4 841.2 1373.9 850.5 1375.9 857.4C1378.1 865.2 1381.1 875.5 1383.8 883.1C1385.9 889.1 1388.5 897.4 1391.8 902.9C1393.1 905.1 1396.2 907.6 1398.7 907.8C1401.1 908 1403.4 904.8 1405.6 903.9C1407.6 903.1 1410.8 903.7 1412.5 902.5C1414.9 900.9 1417.4 897.6 1418.5 895C1420.7 889.9 1422 882.6 1423.4 877.2C1425 871.3 1425.9 863 1428.4 857.4C1429.1 855.9 1431.7 854.7 1433.3 855C1435.2 855.4 1437.2 857.6 1438.2 859.3C1440.5 863.2 1442.5 869 1444.2 873.2C1446.1 877.9 1448.7 884.1 1450.1 889C1452.3 896.6 1454.5 906.9 1456.1 914.7C1458.1 924.2 1460.2 936.9 1462 946.4C1463.7 955.3 1466.3 967.2 1467.9 976.1C1469.6 985.5 1471.5 998.2 1472.9 1007.7C1474.5 1018.4 1476.6 1032.6 1477.8 1043.3C1478.9 1053.4 1480.1 1066.9 1480.8 1077C1481.5 1086.2 1480.9 1098.5 1482.4 1107.6C1482.8 1109.9 1486.2 1116.2 1487 1114C1490.3 1104.5 1491 1090.9 1491.7 1080.9C1492.8 1064.9 1492.4 1043.5 1493 1027.5C1493.4 1017.4 1493.9 1003.9 1495 993.9C1495.4 989.9 1496.6 984.6 1498.2 981C1498.7 979.9 1500.7 978.2 1501.6 979C1503.7 981 1504.5 985.1 1505.5 987.9C1506.9 992 1507.9 997.8 1509.5 1001.8C1510.3 1003.8 1511.6 1006.6 1513.4 1007.7C1514.7 1008.5 1517.2 1008.2 1518.4 1007.3C1520.7 1005.6 1522.8 1002.2 1524.3 999.8C1526.4 996.4 1528.2 991.4 1530.2 987.9C1531.8 985.1 1533.8 981.2 1536.2 979C1537.6 977.8 1540.3 976.8 1542.1 977.1C1544.2 977.5 1546.8 979.2 1548 981C1550.3 984.5 1551.8 989.9 1553 993.9C1554.8 999.7 1556.5 1007.7 1557.9 1013.6C1559.8 1021.9 1562 1033 1563.9 1041.3C1565.6 1048.5 1567.6 1058.1 1569.8 1065.1C1571.7 1071.2 1575.3 1079 1577.7 1084.9C1580.1 1090.8 1582.7 1098.9 1585.6 1104.6C1587.5 1108.2 1590.2 1113.1 1593.5 1115.5C1596 1117.3 1600.4 1117.2 1603.4 1117.5C1606.4 1117.8 1610.5 1118.4 1613.3 1117.5C1616.4 1116.5 1619.2 1112.8 1622.2 1111.6C1624.7 1110.6 1628.4 1110.3 1631.1 1110.6C1634.2 1110.9 1638.4 1111.8 1641 1113.5C1644 1115.5 1646.6 1119.7 1648.9 1122.4C1651.3 1125.3 1653.7 1130.1 1656.8 1132.3C1659.3 1134.1 1663.7 1134.5 1666.7 1135.3C1669.6 1136 1673.6 1137.1 1676.6 1137.3C1679 1137.4 1682.3 1137.3 1684.5 1136.3C1687.2 1135.1 1690.6 1132.7 1692.5 1130.4C1695.5 1126.7 1698.4 1120.8 1700.4 1116.5C1703.1 1110.7 1706.2 1102.8 1708.3 1096.7C1710.7 1089.7 1713.5 1080.2 1715.2 1073C1717.3 1064.2 1719.6 1052.3 1721.1 1043.3C1722.8 1033.3 1724.7 1019.8 1726.1 1009.7C1727.7 997.8 1729.4 982 1731 970.1C1732.3 960.6 1734.1 947.9 1736 938.5C1737.4 931.9 1739.4 923 1741.9 916.7C1743.6 912.5 1747.2 907.6 1749.8 904C1751.8 901.2 1755.4 898.1 1757.4 895.2C1759.8 891.8 1762.6 887 1764.3 883.3C1766.4 878.7 1768.4 872.2 1770.2 867.5C1772 862.8 1774.6 856.5 1776.2 851.7C1777.9 846.4 1779.8 839.3 1781.1 833.9C1782.7 827.4 1784.6 818.6 1786.1 812.1C1787.6 805.6 1789.2 796.8 1791 790.3C1791.9 787.1 1793.5 783 1795 780C1795.9 778.2 1797.9 776.2 1798.9 774.5C1799.9 772.8 1800.8 770.2 1801.9 768.6C1802.9 767.2 1804.2 764.3 1805.8 764.6C1808.3 765.1 1809.3 770.1 1811.8 770.6C1813.7 770.9 1815.7 768.2 1816.7 766.6C1818.4 763.9 1819.1 759.5 1820.7 756.7C1821.5 755.3 1822.9 752.8 1824.6 752.8C1826.5 752.8 1828.7 755 1829.6 756.7C1832.4 761.7 1834.1 769.3 1836.5 774.5C1838 777.6 1840.6 781.5 1842.4 784.4C1843.9 786.8 1846.4 789.7 1847.4 792.3C1849.4 797.5 1850.9 804.7 1852.3 810.1C1853.9 816 1855.4 824.1 1857.3 829.9C1858.3 833 1860.1 837.2 1862.2 839.8C1863.8 841.8 1866.6 844.5 1869.1 844.7C1871.2 844.9 1873.1 841.7 1875.1 840.8C1876.5 840.2 1878.8 838.9 1880 839.8C1882.3 841.4 1883.7 845.2 1885 847.7C1886.7 851.2 1888.9 855.9 1889.9 859.6C1891.6 866 1892.9 874.8 1893.9 881.3C1895.3 890.8 1896.5 903.5 1897.8 913C1898.9 921.3 1900.1 932.5 1901.8 940.7C1902.8 945.3 1904.7 951.3 1906.7 955.5C1907.1 956.4 1908.9 957.7 1909.5 957C1911.2 955.1 1911.5 951.4 1912.5 949C1913.3 946.9 1914 943.7 1915.5 942C1916.9 940.4 1920.7 940.6 1921.6 938.7C1923.9 933.8 1924.7 926.3 1925.5 920.9C1927.1 910.3 1928.4 896 1929.5 885.3C1931 871.1 1932.8 852 1934.4 837.8C1935.8 825.3 1937.7 808.7 1939.4 796.3C1940.6 787.4 1942.3 775.4 1944.3 766.6C1945.3 762 1945.5 754.6 1949.3 751.8C1951.5 750.2 1952.5 758.4 1955.2 758.7C1957.3 758.9 1958.6 754.9 1959.1 752.8C1961.3 744.6 1962.2 733.3 1964.1 725.1C1964.9 721.4 1964.3 713.9 1968 713.2C1971.4 712.5 1971 724.9 1974 723.1C1978.2 720.6 1977 712.1 1977.9 707.3C1979.4 699 1980.1 687.8 1981.9 679.6C1982.8 675.3 1984.8 669.6 1986.8 665.7C1988.7 662.1 1991.4 657 1994.8 654.8C1998 652.7 2003.5 653 2007.2 652.3" stroke="#0762DA" stroke-width="5.1"/>
<path d="M90 855.3C95.2 855.6 102.3 854.8 107.2 856.3C111.4 857.6 116.4 861.3 119.6 864.4C124.7 869.4 130.4 877.1 134.4 883C138.6 889.3 143.8 898.2 146.8 905.2C150.5 913.8 153.5 926.1 156.7 934.9C159.4 942.4 163.8 952.1 166.5 959.6C169.4 967.7 172.1 978.8 175.2 986.8C178.8 995.9 184.6 1007.7 188.8 1016.5C193.1 1025.5 199.1 1037.3 203.6 1046.2C208.8 1056.6 216.2 1070.2 221 1080.8C226.1 1091.9 232 1107.2 236.7 1118.5C240.4 1127.3 244.8 1139.2 248.9 1147.8C252.2 1154.6 257 1163.6 261.2 1169.9C264.4 1174.6 269.5 1180.4 273.4 1184.5C276.8 1188.1 281.5 1192.8 285.6 1195.5C290.4 1198.7 297.3 1202.3 302.7 1204.1C309.8 1206.5 319.8 1208.1 327.2 1209.5C334.5 1210.9 344.3 1212.6 351.7 1213.4C357.5 1214 365.3 1214.5 371.2 1214.4C377.1 1214.3 385 1213.7 390.8 1212.7C396.8 1211.7 404.7 1209.9 410.4 1207.8C418.6 1204.8 429.3 1200 437 1195.8C445.8 1191 457 1183.6 465.4 1178.1C473.2 1173 483.3 1165.8 490.9 1160.3C498.6 1154.7 508.7 1146.9 516.3 1141.2C523.9 1135.5 534.5 1128.3 541.8 1122.1C549.8 1115.3 559.9 1105.5 567.2 1097.9C571.3 1093.6 576.1 1087.3 579.9 1082.7C583.7 1078.1 588.8 1072 592.6 1067.4C596.4 1062.8 601.5 1056.7 605.4 1052.2C609.1 1047.9 614.1 1042.2 618.1 1038.2C621.7 1034.6 626.7 1029.8 630.8 1026.7C633.6 1024.6 637.7 1022.3 641 1021C643.5 1020 647.2 1019.3 649.9 1019.1C652.6 1018.9 656.1 1019.4 658.8 1019.7C661.9 1020.1 666 1020.7 669 1021.6C671.8 1022.4 675.5 1023.8 677.9 1025.4C681.3 1027.6 684.9 1031.7 688 1034.3C690.1 1036.1 693.2 1037.9 695 1040C697.9 1043.4 700.5 1048.7 703.2 1052.2C704.9 1054.4 706.6 1059.1 709.4 1059.1C712.2 1059.1 713.9 1054.4 715.6 1052.2C716.8 1050.7 717.6 1045.8 719.3 1046.8C722.3 1048.5 723.4 1053.9 724.2 1057.2C726.4 1065.9 727.8 1077.9 729.2 1086.8C730.8 1097.2 732.7 1111.1 734.1 1121.5C735.3 1130.4 736.2 1142.3 737.8 1151.1C738.4 1154.2 738.5 1160 741.5 1161C743.9 1161.8 744.8 1156.1 745.2 1153.6C747.4 1139.6 748.7 1120.7 750.2 1106.6C751.4 1095.5 751.9 1080.5 753.9 1069.5C754.5 1066.4 755.7 1060.8 758.8 1060.1C761.3 1059.5 762.7 1064.8 763.8 1067.1C766.5 1072.8 768.9 1080.9 771.2 1086.8C773 1091.3 774.6 1097.8 777.4 1101.7C778.6 1103.3 781.6 1104.2 783.6 1104.2C786.3 1104.2 790.1 1103.4 792.2 1101.7C795.9 1098.7 799.7 1093.4 802.1 1089.3C805.7 1083 808.9 1073.7 812 1067.1C814.8 1061.1 818.8 1053.2 821.9 1047.3C824 1043.5 827.4 1038.8 829.3 1034.9C831.8 1029.8 833.8 1022.4 836.7 1017.6C840.5 1011.2 847.9 1004.3 851.6 997.8C854.3 993 856.4 985.8 857.8 980.5C860.1 971.7 861.8 959.7 863.9 950.8C865.1 945.5 867 938.5 868.9 933.5C870.7 928.9 873.5 922.8 876.3 918.7C879.5 914.2 884.8 909 888.7 905.1C891.5 902.3 895 898 898.6 896.4C902 894.9 907.2 895.3 910.9 895.2C914.6 895.1 919.7 895 923.3 895.9C926.5 896.7 929.9 900.3 933.2 900.9C935.5 901.3 938.6 900.1 940.6 898.9C945.4 896.1 950.6 890.6 955.4 887.8C959.6 885.4 965.8 883.5 970.3 881.6" stroke="#FF302B" stroke-width="4.5"/>
<path d="M1004.2 855.8C1007.7 857 1012.4 858.3 1015.7 859.8C1020 861.8 1025.6 865.1 1029.6 867.7C1033.9 870.5 1039.3 874.6 1043.4 877.6C1047.6 880.6 1053.4 884.2 1057.3 887.5C1061.1 890.8 1065.9 895.5 1069.1 899.4C1071.8 902.7 1074.9 907.5 1077 911.2C1079.3 915.2 1082.2 920.8 1084 925.1C1085.7 929.1 1087.2 934.8 1088.9 938.9C1090.2 942 1092.2 946 1093.9 948.8C1095.5 951.4 1098.4 954.3 1099.9 957C1102.6 961.8 1105.4 968.6 1107.8 973.6C1109.5 977.2 1111.1 982.4 1113.7 985.5C1116 988.3 1120.9 990 1123.6 992.4C1126.9 995.4 1130.6 999.9 1133.5 1003.3C1136 1006.2 1139.4 1009.9 1141.4 1013.2C1144.8 1018.9 1148.7 1026.9 1151.3 1033C1153.5 1038.2 1155.5 1045.5 1157.3 1050.8C1158.5 1054.4 1159.4 1059.4 1161.2 1062.7C1161.9 1064 1163.9 1066.3 1165.2 1065.6C1167.3 1064.5 1168.3 1060.9 1169.1 1058.7C1171.3 1052.9 1173.4 1044.9 1175.1 1038.9C1176.6 1033.6 1177.9 1026.2 1180 1021.1C1180.9 1019 1182.7 1015.7 1185 1015.2C1186.6 1014.8 1188.4 1017.5 1188.9 1019.1C1190.8 1024.8 1191.9 1032.9 1192.9 1038.9C1194.2 1046.6 1195.5 1056.9 1196.8 1064.6C1197.8 1070.6 1199.5 1078.5 1200.8 1084.4C1201.9 1089.2 1203 1095.6 1204.7 1100.2C1205.3 1101.9 1206.7 1105 1208.5 1105C1210.4 1105 1211.9 1101.9 1212.7 1100.2C1214.3 1096.8 1215.8 1092 1216.6 1088.4C1218.2 1080.8 1219.6 1070.4 1220.6 1062.7C1221.9 1052.6 1223.3 1039.1 1224.5 1029C1225.7 1018.3 1227.1 1004.1 1228.5 993.4C1229.5 986.3 1230.8 976.7 1232.4 969.7C1233.2 966 1234.5 961.1 1236.4 957.8C1237 956.7 1239.1 955.2 1240.3 955.8C1242.5 957 1244.2 960.4 1245.3 962.7C1247.2 966.4 1248.5 971.8 1250.2 975.6C1251.8 979.3 1254.7 983.8 1256.2 987.5C1258.3 992.7 1260.4 999.9 1262.1 1005.3C1264 1011.2 1266.4 1019.1 1268 1025.1C1269.7 1031.6 1271.8 1040.2 1273 1046.8C1274.5 1055.1 1276 1066.2 1276.9 1074.5C1278 1084.6 1279 1098.1 1279.9 1108.2C1280.8 1118.3 1282 1131.7 1282.9 1141.8C1283.8 1151.3 1284.8 1163.9 1285.8 1173.4C1286.5 1180 1287.3 1188.8 1288.8 1195.2C1289.1 1196.6 1290.5 1198.3 1291.8 1199.1C1293.1 1199.9 1295.5 1199.3 1296.7 1200.1C1298.3 1201.2 1300.1 1203.3 1300.7 1205.1C1302.2 1209.7 1303.1 1216.1 1303.7 1220.9C1304.8 1229.2 1305.8 1240.3 1306.6 1248.6C1307.2 1254.5 1307.1 1262.5 1308.2 1268.4C1308.7 1271.2 1309.4 1275.8 1312 1277C1313.7 1277.8 1315.1 1273.7 1316 1272C1316.8 1270.5 1317.3 1268.1 1317.5 1266.4C1318.4 1257.5 1318.8 1245.6 1319.5 1236.7C1320.3 1227.2 1321.3 1214.6 1322.4 1205.1C1323.4 1196.8 1324.9 1185.7 1326.4 1177.4C1327 1174.3 1327.7 1170.1 1329.4 1167.5C1330.6 1165.7 1333.9 1165.1 1335.3 1163.5C1337.5 1160.9 1339.9 1156.8 1341.2 1153.6C1343.1 1149 1345.2 1142.7 1346.2 1137.8C1347.6 1130.8 1348.2 1121.2 1349.1 1114.1C1350.3 1104.6 1351.8 1091.9 1353.1 1082.4C1354.2 1074.1 1355.8 1063 1357.1 1054.7C1358.2 1047.6 1359.4 1038 1361 1031C1361.7 1027.9 1361.8 1022.5 1364.6 1021.1C1366.6 1020.1 1368 1025 1368.9 1027C1371.1 1031.6 1373.3 1038.1 1374.9 1042.9C1376.9 1048.8 1379.1 1056.7 1380.8 1062.7C1382.6 1069.2 1384.5 1078 1386.7 1084.4C1388.4 1089.3 1390.9 1095.8 1393.7 1100.2C1395.2 1102.5 1398.3 1104.7 1400.6 1106.2C1402.8 1107.7 1406.5 1108.4 1408.5 1110.1C1411.4 1112.6 1414 1117.1 1416.4 1120C1419.3 1123.6 1424.1 1127.8 1426.3 1131.9C1428.9 1136.9 1430.2 1144.4 1432.2 1149.7C1433.8 1153.9 1436.2 1159.5 1438.2 1163.5C1440.4 1167.8 1444.1 1173.1 1446.1 1177.4C1448.8 1183.2 1452 1191.1 1454 1197.2C1456.1 1203.6 1458.2 1212.4 1459.9 1218.9C1461.8 1226 1464.3 1235.5 1465.9 1242.7C1467.9 1251.4 1470.3 1263.2 1471.8 1272C1473.8 1284.4 1475.9 1301 1477.6 1313.4C1478.6 1320.5 1479.6 1330.1 1480.6 1337.2C1481.2 1341.6 1482 1347.6 1482.8 1352C1483.3 1355 1483.9 1359.1 1485 1362C1485.5 1363.4 1487.1 1367.2 1488 1366C1490.1 1363.3 1490.1 1358.4 1490.5 1355C1491.2 1349 1491.6 1341 1491.8 1335C1492.4 1317.8 1492.8 1295 1493.4 1277.8C1493.9 1264.1 1494.5 1245.9 1495.4 1232.3C1496 1223.4 1496.6 1211.4 1498.4 1202.7C1498.8 1201 1500.6 1197.9 1502.3 1198.3C1504.5 1198.8 1505.5 1202.5 1506.3 1204.6C1508.2 1209.8 1509.6 1217.1 1511.2 1222.4C1512.6 1227.2 1514.2 1233.7 1516.2 1238.3C1517.8 1242.1 1520.7 1246.8 1523.1 1250.1C1525.8 1253.9 1530.2 1258.3 1533 1262C1536.1 1266 1540.3 1271.4 1542.9 1275.8C1545.6 1280.4 1548.6 1286.8 1550.8 1291.7C1553.4 1297.5 1556.5 1305.5 1558.7 1311.5C1560.6 1316.8 1562.7 1324 1564.6 1329.3C1566.3 1334.1 1568.3 1340.6 1570.6 1345.1C1572.5 1348.9 1576.1 1353.4 1578.5 1357C1580.9 1360.5 1583.8 1365.4 1586.4 1368.8C1588.6 1371.6 1591.6 1375.4 1594.3 1377.7C1595.8 1379 1598.2 1380.7 1600.2 1380.7C1602.8 1380.7 1606 1379 1608.2 1377.7C1611.4 1375.9 1614.7 1372 1618 1370.4C1620.7 1369.1 1624.9 1368.6 1627.9 1368.4C1630.9 1368.2 1634.9 1368.5 1637.8 1369.2C1640.3 1369.8 1643.6 1371.3 1645.7 1372.8C1648.4 1374.8 1650.9 1378.7 1653.6 1380.7C1656.3 1382.6 1660.6 1384 1663.5 1385.6C1666.5 1387.3 1670.3 1390 1673.4 1391.6C1676.3 1393.1 1680.1 1395.3 1683.3 1396.1C1686.2 1396.8 1690.2 1396.7 1693.2 1396.5C1696.2 1396.3 1700.3 1395.7 1703.1 1394.5C1705.8 1393.3 1709.2 1390.9 1711 1388.6C1713.4 1385.5 1715.6 1380.5 1716.9 1376.7C1718.9 1370.9 1720.7 1363 1721.9 1357C1723.4 1349.3 1724.8 1338.9 1725.9 1331.2C1727.1 1322.9 1728.7 1311.8 1729.8 1303.5C1730.8 1295.8 1731.9 1285.5 1732.8 1277.8C1733.7 1269.5 1734.7 1258.4 1735.7 1250.1C1736.5 1243 1737.6 1233.5 1738.7 1226.4C1739.7 1220.4 1741.1 1212.4 1742.7 1206.6C1744.1 1201.7 1746.3 1195.3 1748.6 1190.8C1750.5 1187 1754.1 1182.5 1756.5 1178.9C1758.9 1175.3 1762.5 1170.8 1764.4 1167C1766.7 1162.5 1768.9 1156 1770.4 1151.2C1772.4 1144.8 1774.8 1136.1 1776.3 1129.5C1778.3 1120.6 1780.5 1108.7 1782.2 1099.8C1783.5 1092.7 1785 1083.1 1786.2 1076C1787.8 1066.3 1789.6 1053.4 1791.4 1043.8C1792.3 1039 1793.8 1032.7 1795 1028C1796 1024 1797.9 1018.8 1798.6 1014.7C1799.9 1006.8 1800.1 996 1801.5 988.1C1802.4 982.9 1804.2 976 1806.4 971.2C1807.9 967.9 1811.5 964.4 1813.6 961.5C1815.4 959 1817.6 955.4 1819.7 953.1C1820.6 952.1 1822.3 949.9 1823.3 950.7C1825.4 952.5 1826.3 956.4 1826.9 959.1C1828.5 967 1829.6 977.7 1830.6 985.7C1831.7 994.4 1832.7 1006.1 1834.2 1014.7C1835.2 1020.6 1836.7 1028.6 1839 1034.1C1840.7 1038.2 1845.6 1042.2 1847.5 1046.2C1850 1051.7 1851.7 1059.7 1853.5 1065.5C1855.3 1071.3 1857 1079.4 1859.6 1084.9C1861.8 1089.6 1866.4 1095 1869.2 1099.4C1871.5 1103 1874.8 1107.6 1876.5 1111.5C1879.2 1117.8 1881.5 1126.7 1883.8 1133.2C1885.9 1139.1 1889.4 1146.6 1891 1152.6C1892.7 1159 1893.7 1167.8 1894.6 1174.3C1895.9 1183.7 1897.2 1196.3 1898.3 1205.7C1899.4 1215.1 1900.6 1227.8 1901.9 1237.2C1902.8 1243.7 1904.4 1252.4 1905.5 1258.9C1906 1262.2 1906.2 1266.6 1907.2 1269.8C1907.9 1272.1 1908.6 1277.3 1911 1277C1914 1276.6 1915.1 1271.3 1916.4 1268.6C1918.1 1265.1 1920 1260.2 1921.2 1256.5C1923.6 1249.3 1927 1239.7 1928.5 1232.3C1930.6 1222.3 1932.3 1208.7 1933.3 1198.5C1934.8 1184 1935.6 1164.6 1936.9 1150.1C1938.2 1135.6 1940 1116.3 1941.8 1101.8C1942.9 1093.1 1944.6 1081.4 1946.6 1072.8C1947.8 1067.5 1950.4 1060.7 1952.7 1055.8C1954.8 1051.2 1959.2 1046 1961.1 1041.3C1963.9 1034.3 1966.4 1024.5 1968.4 1017.2C1971.4 1006.4 1975.4 991.9 1978 980.9C1980.4 970.8 1982.8 957.1 1985.3 947C1987.1 939.7 1990.2 930.1 1992.6 922.9C1994.6 917 1997.1 909.1 1999.8 903.5C2001.3 900.3 2004.6 896.7 2006.6 893.8" stroke="#FF302B" stroke-width="4.5"/>
</g>
<ellipse cx="1766.5" cy="885.5" rx="28.5" ry="436" fill="#F01408" fill-opacity="0.16"/>
<g stroke="#000" fill="none">
<line x1="1208.4" y1="107.7" x2="1208.4" y2="1236.5" stroke-width="8.4"/>
<line x1="1312.2" y1="109.7" x2="1312.2" y2="1390.5" stroke-width="8.6"/>
<line x1="1487.2" y1="107.7" x2="1487.2" y2="1390.5" stroke-width="8.2"/>
<line x1="1795" y1="111.7" x2="1795" y2="1391.8" stroke-width="6.4"/>
<line x1="1911.4" y1="111.7" x2="1911.4" y2="1391.2" stroke-width="8.4"/>
</g>
<polygon points="1776.2,604.5 1767.3,645 1789,644" fill="#FF0000"/><line x1="1778.2" y1="644.5" x2="1780.8" y2="697" stroke="#FF0000" stroke-width="2.6"/>
<polygon points="1770.7,895.5 1763,934.5 1784.8,932.6" fill="#FF0000"/><line x1="1773.9" y1="933.5" x2="1780.4" y2="984.4" stroke="#FF0000" stroke-width="2.6"/>
<polygon points="1768.9,1177.2 1767.2,1218 1787.8,1214.3" fill="#FF0000"/><line x1="1777.5" y1="1216.2" x2="1785.8" y2="1256.3" stroke="#FF0000" stroke-width="2.6"/>
<g stroke="#000" fill="none">
<line x1="90.7" y1="36.5" x2="90.7" y2="1616.3" stroke-width="5.4"/>
<line x1="88" y1="39.6" x2="2013.1" y2="39.6" stroke-width="6.4"/>
<line x1="2010" y1="36.4" x2="2010" y2="1590" stroke-width="6.2"/>
<line x1="88" y1="1586.8" x2="972" y2="1586.8" stroke-width="6.3"/>
<line x1="1003" y1="1586.8" x2="2013.1" y2="1586.8" stroke-width="6.3"/>
<line x1="954" y1="1616.5" x2="986.5" y2="1559" stroke-width="5"/>
<line x1="988" y1="1616.5" x2="1019.5" y2="1559" stroke-width="5"/>
<line x1="299.7" y1="1586" x2="299.7" y2="1616.3" stroke-width="6"/>
<line x1="510.3" y1="1586" x2="510.3" y2="1616.3" stroke-width="6"/>
<line x1="718.8" y1="1586" x2="718.8" y2="1616.3" stroke-width="6"/>
<line x1="928.4" y1="1586" x2="928.4" y2="1616.3" stroke-width="6"/>
<line x1="1087" y1="1586" x2="1087" y2="1616.3" stroke-width="6"/>
<line x1="1297.5" y1="1586" x2="1297.5" y2="1616.3" stroke-width="6"/>
<line x1="1507.6" y1="1586" x2="1507.6" y2="1616.3" stroke-width="6"/>
<line x1="1717.6" y1="1586" x2="1717.6" y2="1616.3" stroke-width="6"/>
<line x1="1925.8" y1="1586" x2="1925.8" y2="1616.3" stroke-width="6"/>
<line x1="195.3" y1="1586" x2="195.3" y2="1601.2" stroke-width="5.4"/>
<line x1="405" y1="1586" x2="405" y2="1601.2" stroke-width="5.4"/>
<line x1="614.7" y1="1586" x2="614.7" y2="1601.2" stroke-width="5.4"/>
<line x1="823.8" y1="1586" x2="823.8" y2="1601.2" stroke-width="5.4"/>
<line x1="1192.7" y1="1586" x2="1192.7" y2="1601.2" stroke-width="5.4"/>
<line x1="1402.5" y1="1586" x2="1402.5" y2="1601.2" stroke-width="5.4"/>
<line x1="1612" y1="1586" x2="1612" y2="1601.2" stroke-width="5.4"/>
<line x1="1821.3" y1="1586" x2="1821.3" y2="1601.2" stroke-width="5.4"/>
</g>
<g class="ax" font-size="66" text-anchor="middle">
<text x="90" y="1688.7">3750</text>
<text x="299.7" y="1688.7">3500</text>
<text x="510.3" y="1688.7">3250</text>
<text x="718.8" y="1688.7">3000</text>
<text x="928.4" y="1688.7">2750</text>
<text x="1087" y="1688.7">1750</text>
<text x="1297.5" y="1688.7">1500</text>
<text x="1507.6" y="1688.7">1250</text>
<text x="1717.6" y="1688.7">1000</text>
<text x="1925.8" y="1688.7">750</text>
</g>
<g class="ax" font-size="58.2" text-anchor="middle">
<text x="1212" y="1285.4">1605</text>
<text x="1310.3" y="1462.7">1479</text>
<text x="1493.8" y="1458.9">1272</text>
<text x="1787.3" y="1462.7">907</text>
<text x="1923.7" y="1462.7">778</text>
</g>
<text class="ax" font-size="58.2" text-anchor="middle" x="1738" y="558.3" style="fill:#FF0000">945</text>
<line x1="105.5" y1="1251.5" x2="274" y2="1251.5" stroke="#06A75B" stroke-width="6.5"/>
<text class="tm" font-size="72" x="292.5" y="1275.3" textLength="315.5" lengthAdjust="spacing">uncured (l)</text>
<line x1="105.5" y1="1341.4" x2="274" y2="1341.4" stroke="#484848" stroke-width="4.7"/>
<text class="tm" font-size="72" x="292.5" y="1365.2" textLength="367" lengthAdjust="spacing">80°C/10h (s)</text>
<line x1="105.5" y1="1431.5" x2="274" y2="1431.5" stroke="#0762DA" stroke-width="6.5"/>
<text class="tm" font-size="72" x="292.5" y="1455.7" textLength="685" lengthAdjust="spacing">80°C/10h+120°C/2h (s)</text>
<line x1="105.5" y1="1521.3" x2="274" y2="1521.3" stroke="#FF302B" stroke-width="4.5"/>
<text class="tm" font-size="72" x="292.5" y="1544.4" textLength="1002.5" lengthAdjust="spacing">80°C/10h+120°C/2h+180°C/4h (s)</text>
<text class="tm" font-size="80" x="745.7" y="1798">wavenumber(cm<tspan font-size="54" dy="-33">-1</tspan><tspan dy="33">)</tspan></text>
</svg></body></html>
